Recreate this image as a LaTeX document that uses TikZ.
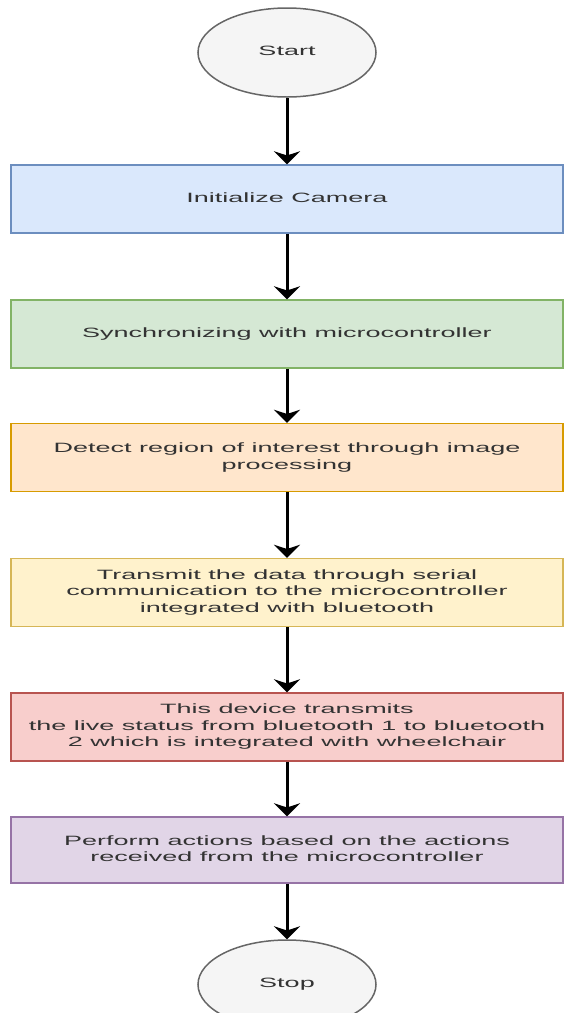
\documentclass[tikz,border=0pt]{standalone}
\usepackage{fontspec}
\setmainfont{Liberation Sans}
\usetikzlibrary{arrows.meta,shapes.geometric}

\definecolor{txtgray}{HTML}{333333}
\definecolor{termfill}{HTML}{F5F5F5}
\definecolor{termline}{HTML}{666666}
\definecolor{bluefill}{HTML}{DAE8FC}
\definecolor{blueline}{HTML}{6C8EBF}
\definecolor{greenfill}{HTML}{D5E8D4}
\definecolor{greenline}{HTML}{82B366}
\definecolor{orangefill}{HTML}{FFE6CC}
\definecolor{orangeline}{HTML}{D79B00}
\definecolor{yellowfill}{HTML}{FFF2CC}
\definecolor{yellowline}{HTML}{D6B656}
\definecolor{redfill}{HTML}{F8CECC}
\definecolor{redline}{HTML}{B85450}
\definecolor{purplefill}{HTML}{E1D5E7}
\definecolor{purpleline}{HTML}{9673A6}

% text of the chart is stretched sideways like the drawing
\newcommand{\wide}[1]{\scalebox{2}[1]{\begin{tabular}{@{}c@{}}#1\end{tabular}}}

\tikzset{
  flowbox/.style args={#1/#2}{rectangle, fill=#1, draw=#2, line width=1.5pt,
    minimum width=552pt, minimum height=68pt, inner sep=0pt},
  term/.style={ellipse, fill=termfill, draw=termline, line width=1.5pt,
    minimum width=178pt, minimum height=89pt, inner sep=0pt},
  flow/.style={line width=3pt, -{Stealth[length=13pt,width=26pt]}}
}

\begin{document}
\begin{tikzpicture}[x=1pt,y=1pt,font=\fontsize{13.5}{16.5}\selectfont\color{txtgray}]
\useasboundingbox (0,0) rectangle (564,-1013);
\node[term] (start) at (287,-52.5) {\wide{Start}};
\node[flowbox=bluefill/blueline] (camera) at (287,-199) {\wide{Initialize Camera}};
\node[flowbox=greenfill/greenline] (sync) at (287,-334) {\wide{Synchronizing with microcontroller}};
\node[flowbox=orangefill/orangeline] (detect) at (287,-457.5)
  {\wide{Detect region of interest through image\\processing}};
\node[flowbox=yellowfill/yellowline] (serial) at (287,-592.5)
  {\wide{Transmit the data through serial\\communication to the microcontroller\\integrated with bluetooth}};
\node[flowbox=redfill/redline] (device) at (287,-727)
  {\wide{This device transmits\\the live status from bluetooth 1 to bluetooth\\2 which is integrated with wheelchair}};
\node[flowbox=purplefill/purpleline, minimum height=66pt] (perform) at (287,-850)
  {\wide{Perform actions based on the actions\\received from the microcontroller}};
\node[term] (stop) at (287,-984.5) {\wide{Stop}};

\draw[flow] (start) -- (camera);
\draw[flow] (camera) -- (sync);
\draw[flow] (sync) -- (detect);
\draw[flow] (detect) -- (serial);
\draw[flow] (serial) -- (device);
\draw[flow] (device) -- (perform);
\draw[flow] (perform) -- (stop);
\end{tikzpicture}
\end{document}
